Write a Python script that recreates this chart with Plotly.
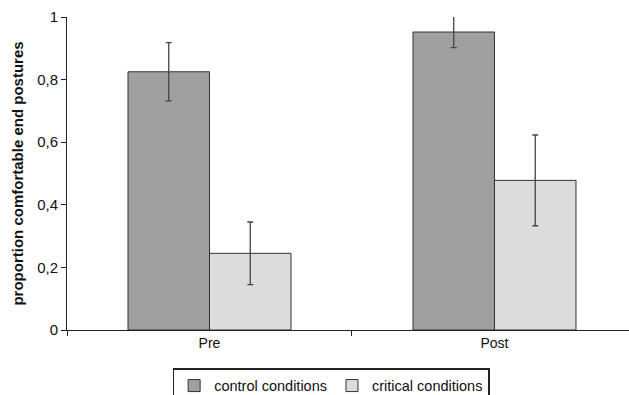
import plotly.graph_objects as go

categories = ["Pre", "Post"]
control_values = [0.825, 0.952]
control_errors = [0.093, 0.05]
critical_values = [0.245, 0.478]
critical_errors = [0.10, 0.145]
y_tick_values = [0, 0.2, 0.4, 0.6, 0.8, 1]
y_tick_labels = ["0", "0,2", "0,4", "0,6", "0,8", "1"]

fig = go.Figure()
fig.add_trace(go.Bar(
    x=categories, y=control_values, name="control conditions",
    marker=dict(color="#a0a0a0", line=dict(color="#333333", width=1)),
    error_y=dict(type="data", array=control_errors, color="#444444", thickness=1.3, width=3),
))
fig.add_trace(go.Bar(
    x=categories, y=critical_values, name="critical conditions",
    marker=dict(color="#dcdcdc", line=dict(color="#333333", width=1)),
    error_y=dict(type="data", array=critical_errors, color="#444444", thickness=1.3, width=3),
))

fig.update_layout(
    width=629, height=395,
    margin=dict(l=67, r=0, t=17, b=65),
    paper_bgcolor="white", plot_bgcolor="white",
    font=dict(family="Liberation Sans, Arial, sans-serif", size=14, color="#111111"),
    barmode="group", bargap=0.428, bargroupgap=0,
    showlegend=True,
    legend=dict(orientation="h", xref="paper", x=0.47, xanchor="center",
                yref="container", y=0.068, yanchor="top",
                bordercolor="#222222", borderwidth=1.5, font=dict(size=14.5),
                itemwidth=30, tracegroupgap=0),
    xaxis=dict(type="category", range=[-0.5, 1.472], showline=True, linecolor="#222222",
               linewidth=1, ticks="outside", tickson="boundaries", ticklen=5,
               tickcolor="#222222", showgrid=False, tickfont=dict(size=14),
               automargin=False),
    yaxis=dict(range=[0, 1], showline=True, linecolor="#222222", linewidth=1,
               ticks="outside", ticklen=5, tickcolor="#222222", showgrid=False,
               zeroline=False, tickvals=y_tick_values, ticktext=y_tick_labels,
               tickfont=dict(size=15), automargin=False,
               title=dict(text="<b>proportion comfortable end postures</b>",
                          font=dict(size=15), standoff=9)),
)

fig.write_html("out.html", config={"displayModeBar": False},
               post_script="document.body.style.margin='0';document.body.style.overflow='hidden';")
